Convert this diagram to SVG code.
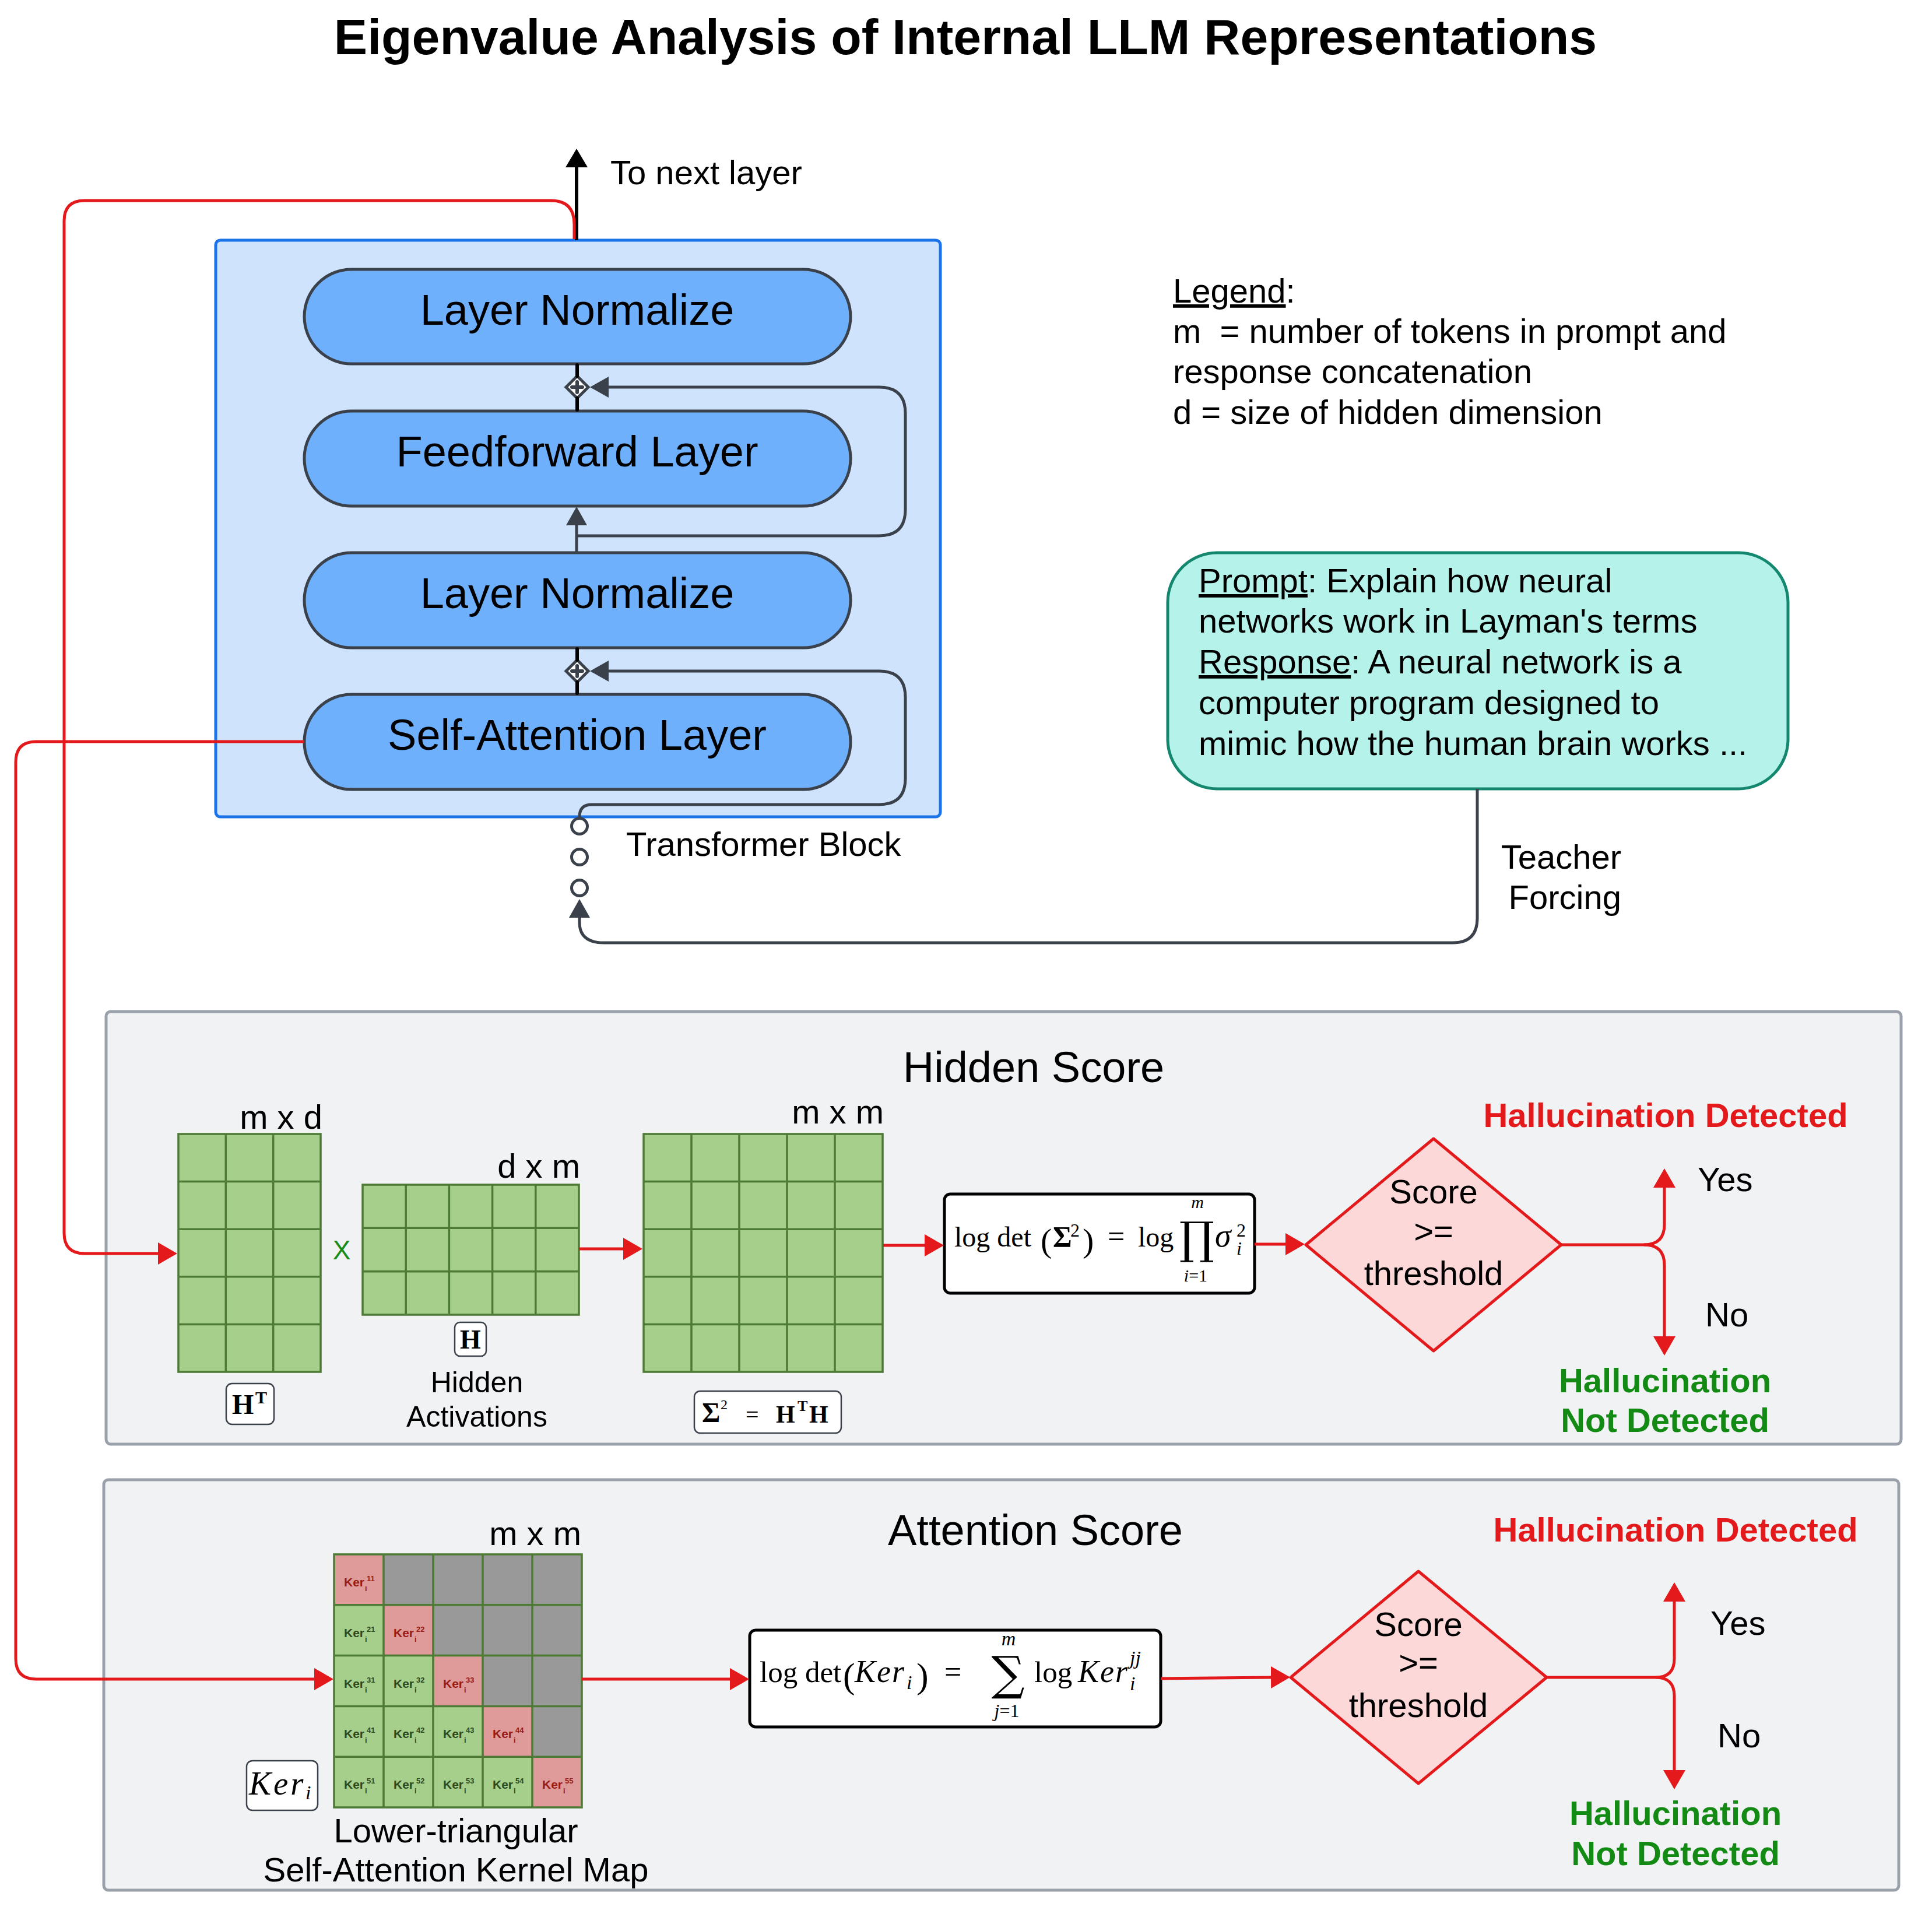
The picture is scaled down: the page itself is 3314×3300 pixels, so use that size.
<svg xmlns="http://www.w3.org/2000/svg" width="3314" height="3300" viewBox="0 0 3314 3300">
<style>
text{font-family:"Liberation Sans",Arial,sans-serif;fill:#000}
.t58{font-size:58px}
.t74{font-size:74px}
.t50{font-size:50px}
.mid{text-anchor:middle}
.end{text-anchor:end}
.pill{fill:#6eb0fc;stroke:#3a414a;stroke-width:5}
.panel{fill:#f1f2f4;stroke:#9ba1aa;stroke-width:5}
.mat{fill:#a6cf8c;stroke:#4d7a35;stroke-width:3.5}
.grid{fill:none;stroke:#4d7a35;stroke-width:3.5}
.lbox{fill:#fff;stroke:#3a414a;stroke-width:2.5}
.fbox{fill:#fff;stroke:#000;stroke-width:5}
.dia{fill:#fdd8d9;stroke:#e3191b;stroke-width:5;stroke-linejoin:round}
.red{fill:none;stroke:#e3191b;stroke-width:5}
.gry{fill:none;stroke:#3a414a;stroke-width:5}
.blk{fill:none;stroke:#000;stroke-width:6;stroke-linecap:round}
.ser{font-family:"Liberation Serif","DejaVu Serif",serif}
.it{font-style:italic}
.bd{font-weight:bold}
.hr{fill:#e3191b;font-weight:bold;font-size:58px}
.hg{fill:#138a13;font-weight:bold;font-size:58px}
.cp{fill:#de9b9a}
.cx{fill:#999999}
.kg{fill:#2d4a1e;font-weight:bold}
.kp{fill:#9a1a14;font-weight:bold}
.k{font-size:21px}
.ks{font-size:13px}
</style>
<defs>
<marker id="aR" markerUnits="userSpaceOnUse" markerWidth="34" markerHeight="40" viewBox="0 0 34 40" refX="1" refY="20" orient="auto"><path d="M0,1 L33,20 L0,39 z" fill="#e3191b"/></marker>
<marker id="aG" markerUnits="userSpaceOnUse" markerWidth="33" markerHeight="38" viewBox="0 0 33 38" refX="1" refY="19" orient="auto"><path d="M0,1 L32,19 L0,37 z" fill="#3a414a"/></marker>
<marker id="aK" markerUnits="userSpaceOnUse" markerWidth="33" markerHeight="40" viewBox="0 0 33 40" refX="1" refY="20" orient="auto"><path d="M0,1 L32,20 L0,39 z" fill="#000"/></marker>
</defs>
<rect width="3314" height="3300" fill="#fff"/>

<text id="title" x="1656" y="93" class="mid bd" font-size="86">Eigenvalue Analysis of Internal LLM Representations</text>

<g id="transformer-block">
<rect x="370" y="412" width="1243" height="989" rx="8" fill="#cfe3fd" stroke="#1a73e8" stroke-width="5"/>
<text x="1074" y="1468" class="t58">Transformer Block</text>
</g>
<g id="ln-top"><rect x="522" y="462" width="937" height="162" rx="81" class="pill"/><text x="990" y="557" class="t74 mid">Layer Normalize</text></g>
<g id="feedforward"><rect x="522" y="705" width="937" height="163" rx="81" class="pill"/><text x="990" y="800" class="t74 mid">Feedforward Layer</text></g>
<g id="ln-bottom"><rect x="522" y="948" width="937" height="163" rx="81" class="pill"/><text x="990" y="1043" class="t74 mid">Layer Normalize</text></g>
<g id="self-attention"><rect x="522" y="1191" width="937" height="163" rx="81" class="pill"/><text x="990" y="1286" class="t74 mid">Self-Attention Layer</text></g>

<g id="add-1">
<polygon points="990,645 1009,664 990,683 971,664" fill="#fff" stroke="#3a414a" stroke-width="5"/>
<path d="M990,655 V673 M981,664 H999" stroke="#3a414a" stroke-width="6" stroke-linecap="round"/>
</g>
<g id="add-2">
<polygon points="990,1132 1009,1151 990,1170 971,1151" fill="#fff" stroke="#3a414a" stroke-width="5"/>
<path d="M990,1142 V1160 M981,1151 H999" stroke="#3a414a" stroke-width="6" stroke-linecap="round"/>
</g>
<g id="dots">
<circle cx="994" cy="1417" r="13.5" fill="#fff" stroke="#3a414a" stroke-width="5"/>
<circle cx="994" cy="1470" r="13.5" fill="#fff" stroke="#3a414a" stroke-width="5"/>
<circle cx="994" cy="1523" r="13.5" fill="#fff" stroke="#3a414a" stroke-width="5"/>
</g>

<g id="next-layer-label"><text x="1047" y="316" class="t58">To next layer</text></g>

<g id="legend">
<text x="2012" y="519" class="t58"><tspan text-decoration="underline">Legend</tspan>:</text>
<text x="2012" y="588" class="t58" style="white-space:pre">m  = number of tokens in prompt and</text>
<text x="2012" y="657" class="t58">response concatenation</text>
<text x="2012" y="727" class="t58">d = size of hidden dimension</text>
</g>

<g id="prompt">
<rect x="2003" y="948" width="1064" height="405" rx="85" fill="#b5f2ea" stroke="#14876f" stroke-width="5"/>
<text x="2056" y="1016" class="t58"><tspan text-decoration="underline">Prompt</tspan>: Explain how neural</text>
<text x="2056" y="1085" class="t58">networks work in Layman's terms</text>
<text x="2056" y="1155" class="t58"><tspan text-decoration="underline">Response</tspan>: A neural network is a</text>
<text x="2056" y="1225" class="t58">computer program designed to</text>
<text x="2056" y="1295" class="t58">mimic how the human brain works ...</text>
</g>
<g id="teacher-forcing-label">
<text x="2781" y="1490" class="t58 end">Teacher</text>
<text x="2781" y="1559" class="t58 end">Forcing</text>
</g>

<g id="hidden-panel">
<rect x="182" y="1735" width="3079" height="742" rx="8" class="panel"/>
<text x="1773" y="1856" class="t74 mid">Hidden Score</text>
</g>
<g id="attention-panel">
<rect x="178" y="2538" width="3079" height="704" rx="8" class="panel"/>
<text x="1776" y="2650" class="t74 mid">Attention Score</text>
</g>

<g id="matrix-HT">
<rect x="306" y="1945" width="244" height="408" class="mat"/>
<path d="M387.3,1945 V2353 M468.7,1945 V2353 M306,2026.6 H550 M306,2108.2 H550 M306,2189.8 H550 M306,2271.4 H550" class="grid"/>
<text x="553" y="1936" class="t58 end">m x d</text>
<rect x="388" y="2373" width="82" height="70" rx="10" class="lbox"/>
<text x="398" y="2425" class="ser bd" font-size="48">H</text>
<text x="438" y="2407" class="ser bd" font-size="30">T</text>
</g>
<g id="times"><text x="586" y="2160" class="mid" font-size="46" style="fill:#1a8c1a">X</text></g>
<g id="matrix-H">
<rect x="622" y="2032" width="371" height="223" class="mat"/>
<path d="M696.2,2032 V2255 M770.4,2032 V2255 M844.6,2032 V2255 M918.8,2032 V2255 M622,2106.3 H993 M622,2180.7 H993" class="grid"/>
<text x="995" y="2020" class="t58 end">d x m</text>
<rect x="780" y="2268" width="54" height="58" rx="9" class="lbox"/>
<text x="807" y="2313" class="ser bd mid" font-size="46">H</text>
<text x="818" y="2388" class="t50 mid">Hidden</text>
<text x="818" y="2447" class="t50 mid">Activations</text>
</g>
<g id="matrix-Sigma">
<rect x="1104" y="1945" width="410" height="408" class="mat"/>
<path d="M1186,1945 V2353 M1268,1945 V2353 M1350,1945 V2353 M1432,1945 V2353 M1104,2026.6 H1514 M1104,2108.2 H1514 M1104,2189.8 H1514 M1104,2271.4 H1514" class="grid"/>
<text x="1516" y="1927" class="t58 end">m x m</text>
<rect x="1191" y="2386" width="252" height="72" rx="10" class="lbox"/>
<text x="1204" y="2439" class="ser bd" font-size="48">Σ</text>
<text x="1236" y="2417" class="ser" font-size="24">2</text>
<text x="1279" y="2440" class="ser" font-size="40">=</text>
<text x="1331" y="2440" class="ser bd" font-size="42">H</text>
<text x="1368" y="2420" class="ser bd" font-size="26">T</text>
<text x="1388" y="2440" class="ser bd" font-size="42">H</text>
</g>

<g id="formula-hidden">
<rect x="1620" y="2048" width="532" height="170" rx="10" class="fbox"/>
<text x="1637" y="2138" class="ser" font-size="48">log det</text>
<text x="1785" y="2147" class="ser" font-size="58">(</text>
<text x="1806" y="2138" class="ser bd" font-size="50">Σ</text>
<text x="1836" y="2121" class="ser" font-size="32">2</text>
<text x="1857" y="2147" class="ser" font-size="58">)</text>
<text x="1900" y="2138" class="ser" font-size="52">=</text>
<text x="1952" y="2138" class="ser" font-size="48">log</text>
<text x="2053" y="2150" class="mid" font-size="76" style="font-family:'DejaVu Serif',serif">∏</text>
<text x="2054" y="2072" class="ser it mid" font-size="30">m</text>
<text x="2051" y="2198" class="ser mid" font-size="30"><tspan font-style="italic">i</tspan>=1</text>
<text x="2084" y="2138" class="ser it" font-size="56">σ</text>
<text x="2121" y="2121" class="ser" font-size="32">2</text>
<text x="2121" y="2152" class="ser it" font-size="32">i</text>
</g>

<g id="decision-hidden">
<polygon points="2459,1953 2678,2135 2459,2317 2240,2135" class="dia"/>
<text x="2459" y="2064" class="t58 mid">Score</text>
<text x="2459" y="2132" class="t58 mid">&gt;=</text>
<text x="2459" y="2204" class="t58 mid">threshold</text>
</g>
<g id="hidden-outcomes">
<text x="2857" y="1933" class="hr mid">Hallucination Detected</text>
<text x="2912" y="2043" class="t58">Yes</text>
<text x="2925" y="2275" class="t58">No</text>
<text x="2856" y="2388" class="hg mid">Hallucination</text>
<text x="2856" y="2456" class="hg mid">Not Detected</text>
</g>

<g id="kernel-map">
<rect x="573" y="2666" width="425" height="434" fill="#a6cf8c"/>
<rect x="573" y="2666" width="85" height="86.8" class="cp"/>
<rect x="658" y="2666" width="340" height="86.8" class="cx"/>
<rect x="658" y="2752.8" width="85" height="86.8" class="cp"/>
<rect x="743" y="2752.8" width="255" height="86.8" class="cx"/>
<rect x="743" y="2839.6" width="85" height="86.8" class="cp"/>
<rect x="828" y="2839.6" width="170" height="86.8" class="cx"/>
<rect x="828" y="2926.4" width="85" height="86.8" class="cp"/>
<rect x="913" y="2926.4" width="85" height="86.8" class="cx"/>
<rect x="913" y="3013.2" width="85" height="86.8" class="cp"/>
<rect x="573" y="2666" width="425" height="434" class="grid"/>
<path d="M658,2666 V3100 M743,2666 V3100 M828,2666 V3100 M913,2666 V3100 M573,2752.8 H998 M573,2839.6 H998 M573,2926.4 H998 M573,3013.2 H998" class="grid"/>
<g>
<text x="590" y="2721" class="k kp">Ker</text><text x="629" y="2712" class="ks kp">11</text><text x="626" y="2729" class="ks kp">i</text>
<text x="675" y="2807.8" class="k kp">Ker</text><text x="714" y="2798.8" class="ks kp">22</text><text x="711" y="2815.8" class="ks kp">i</text>
<text x="760" y="2894.6" class="k kp">Ker</text><text x="799" y="2885.6" class="ks kp">33</text><text x="796" y="2902.6" class="ks kp">i</text>
<text x="845" y="2981.4" class="k kp">Ker</text><text x="884" y="2972.4" class="ks kp">44</text><text x="881" y="2989.4" class="ks kp">i</text>
<text x="930" y="3068.2" class="k kp">Ker</text><text x="969" y="3059.2" class="ks kp">55</text><text x="966" y="3076.2" class="ks kp">i</text>
</g>
<g>
<text x="590" y="2807.8" class="k kg">Ker</text><text x="629" y="2798.8" class="ks kg">21</text><text x="626" y="2815.8" class="ks kg">i</text>
<text x="590" y="2894.6" class="k kg">Ker</text><text x="629" y="2885.6" class="ks kg">31</text><text x="626" y="2902.6" class="ks kg">i</text>
<text x="675" y="2894.6" class="k kg">Ker</text><text x="714" y="2885.6" class="ks kg">32</text><text x="711" y="2902.6" class="ks kg">i</text>
<text x="590" y="2981.4" class="k kg">Ker</text><text x="629" y="2972.4" class="ks kg">41</text><text x="626" y="2989.4" class="ks kg">i</text>
<text x="675" y="2981.4" class="k kg">Ker</text><text x="714" y="2972.4" class="ks kg">42</text><text x="711" y="2989.4" class="ks kg">i</text>
<text x="760" y="2981.4" class="k kg">Ker</text><text x="799" y="2972.4" class="ks kg">43</text><text x="796" y="2989.4" class="ks kg">i</text>
<text x="590" y="3068.2" class="k kg">Ker</text><text x="629" y="3059.2" class="ks kg">51</text><text x="626" y="3076.2" class="ks kg">i</text>
<text x="675" y="3068.2" class="k kg">Ker</text><text x="714" y="3059.2" class="ks kg">52</text><text x="711" y="3076.2" class="ks kg">i</text>
<text x="760" y="3068.2" class="k kg">Ker</text><text x="799" y="3059.2" class="ks kg">53</text><text x="796" y="3076.2" class="ks kg">i</text>
<text x="845" y="3068.2" class="k kg">Ker</text><text x="884" y="3059.2" class="ks kg">54</text><text x="881" y="3076.2" class="ks kg">i</text>
</g>
<text x="997" y="2650" class="t58 end">m x m</text>
<rect x="423" y="3020" width="122" height="85" rx="10" class="lbox"/>
<text x="427" y="3078" class="ser it" font-size="57" letter-spacing="4">Ker</text>
<text x="524" y="3086" class="ser it" font-size="34">i</text>
<text x="782" y="3160" class="t58 mid">Lower-triangular</text>
<text x="782" y="3227" class="t58 mid">Self-Attention Kernel Map</text>
</g>

<g id="formula-attention">
<rect x="1286" y="2796" width="705" height="166" rx="10" class="fbox"/>
<text x="1303" y="2885" class="ser" font-size="51">log det</text>
<text x="1446" y="2895" class="ser" font-size="62">(</text>
<text x="1466" y="2885" class="ser it" font-size="54" letter-spacing="2">Ker</text>
<text x="1555" y="2897" class="ser it" font-size="34">i</text>
<text x="1572" y="2895" class="ser" font-size="62">)</text>
<text x="1620" y="2885" class="ser" font-size="52">=</text>
<text x="1729" y="2898" class="mid" font-size="80" style="font-family:'DejaVu Serif',serif">∑</text>
<text x="1730" y="2822" class="ser it mid" font-size="34">m</text>
<text x="1727" y="2945" class="ser mid" font-size="32"><tspan font-style="italic">j</tspan>=1</text>
<text x="1774" y="2885" class="ser" font-size="51">log</text>
<text x="1849" y="2885" class="ser it" font-size="54" letter-spacing="2">Ker</text>
<text x="1938" y="2855" class="ser it" font-size="34">jj</text>
<text x="1938" y="2899" class="ser it" font-size="34">i</text>
</g>

<g id="decision-attention">
<polygon points="2433,2695 2653,2877 2433,3059 2214,2877" class="dia"/>
<text x="2433" y="2806" class="t58 mid">Score</text>
<text x="2433" y="2872" class="t58 mid">&gt;=</text>
<text x="2433" y="2945" class="t58 mid">threshold</text>
</g>
<g id="attention-outcomes">
<text x="2874" y="2644" class="hr mid">Hallucination Detected</text>
<text x="2934" y="2804" class="t58">Yes</text>
<text x="2946" y="2997" class="t58">No</text>
<text x="2874" y="3130" class="hg mid">Hallucination</text>
<text x="2874" y="3199" class="hg mid">Not Detected</text>
</g>

<g id="connectors">
<path d="M989,412 V286" class="blk" style="stroke-linecap:butt" marker-end="url(#aK)"/>
<path d="M990,626 V645 M990,683 V703 M990,1113 V1132 M990,1170 V1189" class="blk"/>
<path d="M989,948 V900" class="gry" marker-end="url(#aG)"/>
<path d="M989,919 H1508 Q1553,919 1553,874 V709 Q1553,664 1508,664 H1043" class="gry" marker-end="url(#aG)"/>
<path d="M994,1401 Q994,1380 1015,1380 H1508 Q1553,1380 1553,1335 V1196 Q1553,1151 1508,1151 H1043" class="gry" marker-end="url(#aG)"/>
<path d="M2534,1353 V1575 Q2534,1617 2492,1617 H1036 Q994,1617 994,1582 V1573" class="gry" marker-end="url(#aG)"/>
<path d="M985,410 V385 Q985,344 945,344 H145 Q110,344 110,379 V2115 Q110,2150 145,2150 H272" class="red" marker-end="url(#aR)"/>
<path d="M522,1272 H62 Q27,1272 27,1307 V2845 Q27,2880 62,2880 H540" class="red" marker-end="url(#aR)"/>
<path d="M993,2142 H1070" class="red" marker-end="url(#aR)"/>
<path d="M1515,2136 H1587" class="red" marker-end="url(#aR)"/>
<path d="M2152,2134 H2206" class="red" marker-end="url(#aR)"/>
<path d="M2678,2135 H2820 Q2855,2135 2855,2100 V2036" class="red" marker-end="url(#aR)"/>
<path d="M2820,2135 Q2855,2135 2855,2170 V2293" class="red" marker-end="url(#aR)"/>
<path d="M998,2880 H1253" class="red" marker-end="url(#aR)"/>
<path d="M1991,2879 L2181,2877" class="red" marker-end="url(#aR)"/>
<path d="M2653,2877 H2840 Q2872,2877 2872,2845 V2746" class="red" marker-end="url(#aR)"/>
<path d="M2840,2877 Q2872,2877 2872,2909 V3037" class="red" marker-end="url(#aR)"/>
</g>
</svg>
